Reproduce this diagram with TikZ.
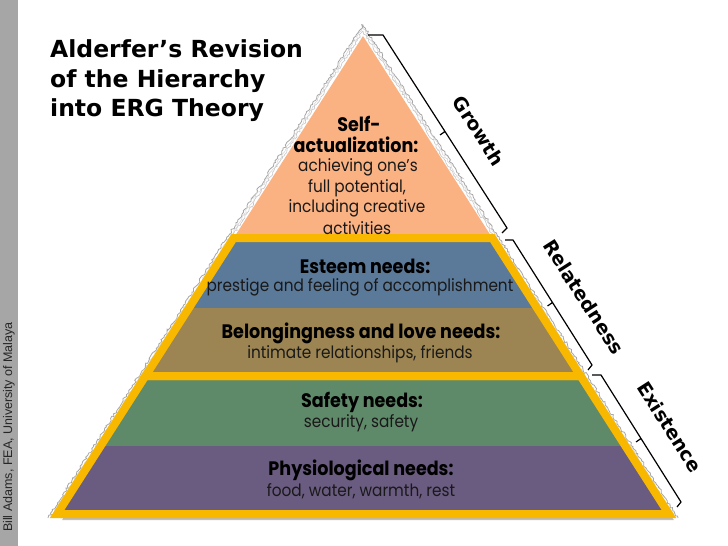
\documentclass[tikz,border=0pt]{standalone}
\usepackage{fontspec}
\usetikzlibrary{decorations.pathmorphing}
\newfontfamily\futfont[FakeStretch=0.9]{Poppins}
\newfontfamily\futbold{Poppins Bold}
\newfontfamily\vfont{DejaVu Sans}
\newfontfamily\afont{Liberation Sans}
\definecolor{peach}{HTML}{FBB283}
\definecolor{esteem}{HTML}{5B7A9A}
\definecolor{belong}{HTML}{9C8552}
\definecolor{safety}{HTML}{5F8A69}
\definecolor{physio}{HTML}{6A5B80}
\definecolor{ergyellow}{HTML}{F9B800}
\definecolor{sidebar}{HTML}{A6A6A6}
\begin{document}
\begin{tikzpicture}[x=1pt,y=-1pt,
  bandtxt/.style={inner sep=0pt,anchor=center,text=black!90,font=\futfont\fontsize{17}{19}\selectfont},
  bandhead/.style={bandtxt,font=\futfont\bfseries\fontsize{19.5}{21}\selectfont,text=black},
  titletxt/.style={inner sep=0pt,anchor=base west,font=\vfont\bfseries\fontsize{23.5}{26}\selectfont},
  ergtxt/.style={inner sep=0pt,anchor=center,font=\vfont\bfseries\fontsize{19}{21}\selectfont},
  yellowedge/.style={draw=ergyellow,line width=8pt,line join=miter},
  bracketline/.style={draw=black,line width=1.2pt},
  rough/.style={draw=gray!70,line width=0.8pt,decorate,decoration={random steps,segment length=2pt,amplitude=1.2pt}}]
\useasboundingbox (0,0) rectangle (728,546);
\fill[white] (0,0) rectangle (728,546);
\fill[sidebar] (0,0) rectangle (18,546);
\node[rotate=90,inner sep=0pt,font=\afont\fontsize{12.5}{14}\selectfont,text=black!85] (credit) at (9,427) {Bill Adams, FEA, University of Malaya};

% key points of the pyramid
\coordinate (apex) at (363,36);
\coordinate (m1l) at (233.7,238);  \coordinate (m1r) at (492.3,238);
\coordinate (m2l) at (189,308);    \coordinate (m2r) at (537,308);
\coordinate (m3l) at (145.4,376);  \coordinate (m3r) at (580.6,376);
\coordinate (m4l) at (100.6,446);  \coordinate (m4r) at (625.4,446);
\coordinate (m5l) at (57.1,514);   \coordinate (m5r) at (668.9,514);

% rough paper edge
\fill[white] (48,518) -- (363,24) -- (678,518) -- cycle;
\draw[rough] (48,518) -- (363,25) -- (678,518);
\draw[rough,gray!45,line width=0.6pt] (54,516) -- (363,31) -- (672,516);
\draw[rough,gray!35,line width=0.5pt] (51,517) -- (363,28) -- (675,517);

% shadow
\fill[black,opacity=0.25] ([shift={(5,6)}]m1l) -- ([shift={(5,6)}]m1r) -- ([shift={(5,6)}]m5r) -- ([shift={(5,6)}]m5l) -- cycle;
\fill[black,opacity=0.25] ([shift={(3,4)}]m1l) -- ([shift={(3,4)}]m1r) -- ([shift={(3,4)}]m5r) -- ([shift={(3,4)}]m5l) -- cycle;

% bands
\fill[peach] (apex) -- (m1r) -- (m1l) -- cycle;
\fill[esteem] (m1l) -- (m1r) -- (m2r) -- (m2l) -- cycle;
\fill[belong] (m2l) -- (m2r) -- (m3r) -- (m3l) -- cycle;
\fill[safety] (m3l) -- (m3r) -- (m4r) -- (m4l) -- cycle;
\fill[physio] (m4l) -- (m4r) -- (m5r) -- (m5l) -- cycle;

% yellow outlines
\draw[yellowedge] (m1l) -- (m1r) -- (m3r) -- (m3l) -- cycle;
\draw[yellowedge] (m3l) -- (m3r) -- (m5r) -- (m5l) -- cycle;

% brackets
\coordinate (ga) at (368,35);  \coordinate (gb) at (383,35);
\coordinate (gc) at (507,228); \coordinate (gd) at (502,233);
\coordinate (gm) at (445,131.5); \coordinate (gt) at (440,135);
\draw[bracketline] (ga) -- (gb) -- (gc) -- (gd) (gm) -- (gt);
\coordinate (ra) at (505,240); \coordinate (rb) at (513,240);
\coordinate (rc) at (592,365); \coordinate (rd) at (588,370);
\coordinate (rm) at (552.5,302.5); \coordinate (rt) at (547.5,306);
\draw[bracketline] (ra) -- (rb) -- (rc) -- (rd) (rm) -- (rt);
\coordinate (ea) at (592,375); \coordinate (eb) at (601,375);
\coordinate (ec) at (681,502); \coordinate (ed) at (677,507);
\coordinate (em) at (641,438.5); \coordinate (et) at (636,442);
\draw[bracketline] (ea) -- (eb) -- (ec) -- (ed) (em) -- (et);

\node[ergtxt,rotate=-57.4] (growth) at (479,131) {Growth};
\node[ergtxt,rotate=-57.4] (related) at (584,297) {Relatedness};
\node[ergtxt,rotate=-57.4] (exist) at (670,427) {Existence};

% title
\node[titletxt] (t1) at (50,57) {Alderfer’s Revision};
\node[titletxt] (t2) at (50,87) {of the Hierarchy};
\node[titletxt] (t3) at (50,116) {into ERG Theory};

% band texts
\node[bandhead] (s1) at (359,124) {Self-};
\node[bandhead] (s2) at (356,145) {actualization:};
\node[bandtxt] (s3) at (358,167) {achieving one’s};
\node[bandtxt] (s4) at (357,188) {full potential,};
\node[bandtxt] (s5) at (357,208) {including creative};
\node[bandtxt] (s6) at (357,228) {activities};
\node[bandhead] (e1) at (365,266) {Esteem needs:};
\node[bandtxt] (e2) at (360,287) {prestige and feeling of accomplishment};
\node[bandhead] (b1) at (361,333) {Belongingness and love needs:};
\node[bandtxt] (b2) at (360,354) {intimate relationships, friends};
\node[bandhead] (f1) at (362,402) {Safety needs:};
\node[bandtxt] (f2) at (361,423) {security, safety};
\node[bandhead] (p1) at (361,470) {Physiological needs:};
\node[bandtxt] (p2) at (361,491) {food, water, warmth, rest};
\end{tikzpicture}
\end{document}
